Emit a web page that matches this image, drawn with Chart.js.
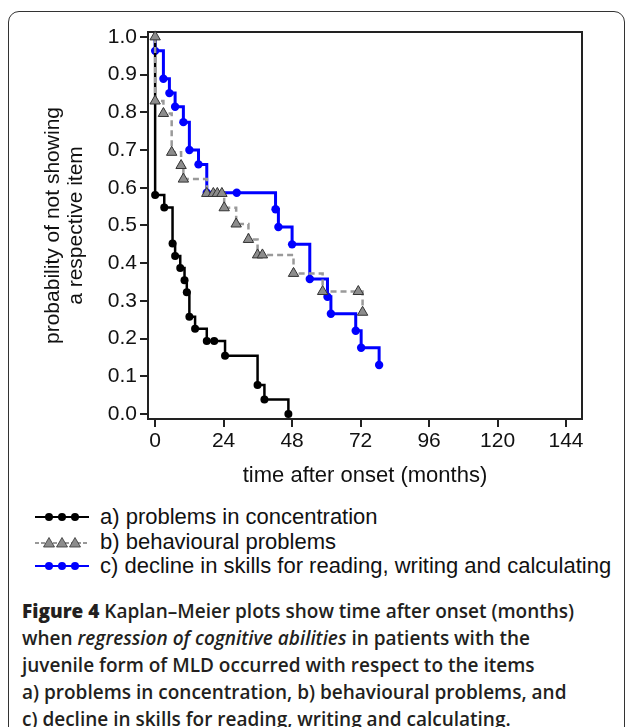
<!DOCTYPE html>
<html>
<head>
<meta charset="utf-8">
<script src="https://cdn.jsdelivr.net/npm/chart.js@4.4.1/dist/chart.umd.min.js"></script>
<style>
  html, body { margin: 0; padding: 0; background: #fff; }
  body { width: 630px; height: 727px; position: relative; overflow: hidden; }
  #frame { position: absolute; left: 8px; top: 11px; width: 617px; height: 760px;
           border: 1.5px solid #333; border-radius: 11px; box-sizing: border-box; }
  #chartBox { position: absolute; left: 0; top: 0; width: 630px; height: 500px; }
  #legend { position: absolute; left: 35px; top: 505px; font-family: "Liberation Sans", Arial, sans-serif;
            font-size: 22px; color: #111; }
  .row { height: 24.5px; line-height: 24.5px; white-space: nowrap; }
  .row svg { vertical-align: middle; margin-right: 11px; position: relative; top: -1px; }
  #caption { position: absolute; left: 22px; top: 598px; white-space: nowrap; font-family: "Open Sans", sans-serif;
             font-size: 19px; line-height: 27px; color: #231f20; font-weight: 600; }
  #caption b { font-weight: 800; }
</style>
</head>
<body>
<div id="frame"></div>
<div id="chartBox"><canvas id="km" width="630" height="500"></canvas></div>
<div id="legend">
  <div class="row"><svg width="54" height="12"><line x1="0" y1="6" x2="54" y2="6" stroke="#000" stroke-width="2.2"/><circle cx="14" cy="6" r="4" fill="#000"/><circle cx="27" cy="6" r="4" fill="#000"/><circle cx="40" cy="6" r="4" fill="#000"/></svg>a) problems in concentration</div>
  <div class="row"><svg width="54" height="12"><line x1="0" y1="7" x2="54" y2="7" stroke="#999" stroke-width="2.2" stroke-dasharray="4,2"/><polygon points="8.5,11 14,1.5 19.5,11" fill="#8c8c8c" stroke="#333" stroke-width="0.8"/><polygon points="21.5,11 27,1.5 32.5,11" fill="#8c8c8c" stroke="#333" stroke-width="0.8"/><polygon points="34.5,11 40,1.5 45.5,11" fill="#8c8c8c" stroke="#333" stroke-width="0.8"/></svg>b) behavioural problems</div>
  <div class="row"><svg width="54" height="12"><line x1="0" y1="6" x2="54" y2="6" stroke="#0000ff" stroke-width="2.2"/><circle cx="14" cy="6" r="4" fill="#0000ff"/><circle cx="27" cy="6" r="4" fill="#0000ff"/><circle cx="40" cy="6" r="4" fill="#0000ff"/></svg>c) decline in skills for reading, writing and calculating</div>
</div>
<div id="caption"><b>Figure 4</b> Kaplan–Meier plots show time after onset (months)<br>when <i>regression of cognitive abilities</i> in patients with the<br>juvenile form of MLD occurred with respect to the items<br>a) problems in concentration, b) behavioural problems, and<br>c) decline in skills for reading, writing and calculating.</div>

<script>
// time axis (months) and Kaplan-Meier estimates
var xTicks = [0, 24, 48, 72, 96, 120, 144];
var yTicks = [0, 0.1, 0.2, 0.3, 0.4, 0.5, 0.6, 0.7, 0.8, 0.9, 1.0];

var concMonths = [0, 0, 3.2, 6.1, 7.0, 8.8, 10.3, 11.1, 12.0, 14.0, 18.1, 20.7, 24.5, 35.9, 38.3, 46.7];
var concSurv   = [1.0, 0.581, 0.548, 0.452, 0.419, 0.387, 0.355, 0.323, 0.258, 0.226, 0.194, 0.194, 0.155, 0.077, 0.039, 0.0];

var behavMonths = [0, 0, 2.9, 5.8, 9.1, 9.9, 18.1, 20.4, 21.8, 23.4, 24.2, 28.4, 32.7, 35.9, 37.6, 48.5, 58.7, 71.2, 72.7];
var behavSurv   = [1.0, 0.83, 0.797, 0.694, 0.659, 0.623, 0.585, 0.585, 0.585, 0.585, 0.547, 0.504, 0.463, 0.422, 0.422, 0.373, 0.325, 0.325, 0.27];

var skillMonths = [0, 0, 2.9, 5.0, 7.0, 9.9, 12.0, 15.2, 18.1, 28.6, 42.2, 43.2, 48.0, 54.2, 60.4, 61.6, 70.3, 72.2, 78.5];
var skillSurv   = [1.0, 0.963, 0.889, 0.851, 0.815, 0.774, 0.700, 0.662, 0.587, 0.587, 0.543, 0.496, 0.450, 0.358, 0.311, 0.266, 0.221, 0.176, 0.130];

function toPoints(xs, ys) {
    return xs.map(function (x, i) { return { x: x, y: ys[i] }; });
}

function radii(n, r, firstHidden) {
    var out = [];
    for (var i = 0; i < n; i++) out.push(i === 0 && firstHidden ? 0 : r);
    return out;
}

var fontFamily = '"Liberation Sans", Arial, sans-serif';
var tickFont = { family: fontFamily, size: 21 };

// full box around the plot area
var boxPlugin = {
    id: 'box',
    beforeDatasetsDraw: function (chart) {
        var a = chart.chartArea, ctx = chart.ctx;
        ctx.save();
        ctx.strokeStyle = '#222';
        ctx.lineWidth = 2;
        ctx.strokeRect(a.left, a.top, a.right - a.left, a.bottom - a.top);
        ctx.restore();
    }
};

new Chart(document.getElementById('km'), {
    type: 'line',
    data: {
        datasets: [{
            label: 'b) behavioural problems',
            data: toPoints(behavMonths, behavSurv),
            stepped: 'before',
            borderColor: '#9a9a9a',
            borderWidth: 2.5,
            borderDash: [6, 4],
            pointStyle: 'triangle',
            pointRadius: radii(behavMonths.length, 6, false),
            pointBackgroundColor: '#8c8c8c',
            pointBorderColor: '#333',
            pointBorderWidth: 1,
            order: 0
        }, {
            label: 'a) problems in concentration',
            data: toPoints(concMonths, concSurv),
            stepped: 'before',
            borderColor: '#000',
            borderWidth: 2.5,
            pointRadius: radii(concMonths.length, 4, true),
            pointBackgroundColor: '#000',
            pointBorderColor: '#000',
            pointBorderWidth: 0,
            order: 1
        }, {
            label: 'c) decline in skills for reading, writing and calculating',
            data: toPoints(skillMonths, skillSurv),
            stepped: 'before',
            borderColor: '#0000ff',
            borderWidth: 3,
            pointRadius: radii(skillMonths.length, 4.2, true),
            pointBackgroundColor: '#0000ff',
            pointBorderColor: '#0000ff',
            pointBorderWidth: 0,
            order: 2
        }]
    },
    options: {
        responsive: false,
        animation: false,
        clip: false,
        layout: { padding: { top: 32, right: 48, bottom: 11, left: 0 } },
        plugins: { legend: { display: false }, tooltip: { enabled: false } },
        scales: {
            x: {
                type: 'linear',
                min: -2.5,
                max: 149.6,
                afterBuildTicks: function (s) { s.ticks = xTicks.map(function (v) { return { value: v }; }); },
                afterFit: function (s) { s.height = 70; },
                grid: { drawOnChartArea: false, tickLength: 8, color: '#222', lineWidth: 2 },
                border: { color: '#222', width: 2 },
                ticks: { font: tickFont, color: '#111', padding: 2, maxRotation: 0, autoSkip: false },
                title: { display: true, text: 'time after onset (months)', font: { family: fontFamily, size: 22 }, color: '#111', padding: { top: 0, bottom: 0 } }
            },
            y: {
                min: -0.013,
                max: 1.013,
                afterBuildTicks: function (s) { s.ticks = yTicks.map(function (v) { return { value: v }; }); },
                afterFit: function (s) { s.width = 148; },
                grid: { drawOnChartArea: false, tickLength: 8, color: '#222', lineWidth: 2 },
                border: { color: '#222', width: 2 },
                ticks: {
                    font: tickFont, color: '#111', padding: 3, autoSkip: false,
                    callback: function (v) { return v.toFixed(1); }
                },
                title: {
                    display: true,
                    text: ['probability of not showing', 'a respective item'],
                    font: { family: fontFamily, size: 21, lineHeight: 1.1 },
                    color: '#111',
                    padding: { top: 42, bottom: 0 }
                }
            }
        }
    },
    plugins: [boxPlugin]
});
</script>
</body>
</html>
